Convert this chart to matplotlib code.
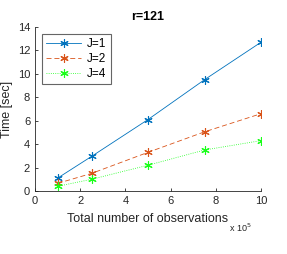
import matplotlib
matplotlib.use('Agg')
import matplotlib.pyplot as plt
import numpy as np

plt.rcParams['font.family'] = ['Liberation Sans', 'DejaVu Sans']

# data (x in units of 1e5 observations)
n_obs = [1, 2.5, 5, 7.5, 10]
t_j1 = [1.1, 2.95, 6.1, 9.5, 12.7]
t_j2 = [0.65, 1.5, 3.3, 5.05, 6.6]
t_j4 = [0.4, 1.0, 2.2, 3.5, 4.3]

fig = plt.figure(figsize=(2.87, 2.54), dpi=100)
ax = fig.add_axes([35/287, 1 - 191/254, 226/287, 164/254])

star = (6, 2, 0)
ax.plot(n_obs, t_j1, '-', color=(0, 0.447, 0.741), lw=0.6, marker=star, ms=6, mew=0.8,
        label='J=1')
ax.plot(n_obs, t_j2, '--', color=(0.85, 0.325, 0.098), lw=0.6, marker=star, ms=6, mew=0.8,
        dashes=(6, 3.5), label='J=2')
ax.plot(n_obs, t_j4, ':', color=(0.1, 1.0, 0.1), lw=0.6, marker=star, ms=6, mew=0.8,
        label='J=4')

ax.set_xlim(0, 10)
ax.set_ylim(0, 14)
ax.set_xticks([0, 2, 4, 6, 8, 10])
ax.set_yticks([0, 2, 4, 6, 8, 10, 12, 14])
ax.spines['top'].set_visible(False)
ax.spines['right'].set_visible(False)
for s in ['left', 'bottom']:
    ax.spines[s].set_linewidth(0.6)
    ax.spines[s].set_color('#262626')
ax.tick_params(labelsize=8, width=0.6, length=2, direction='in', colors='#262626', pad=3.5)

ax.set_xlabel('Total number of observations', fontsize=9, color='#262626', labelpad=5)
ax.set_ylabel('Time [sec]', fontsize=9, color='#262626', labelpad=3)
ax.set_title('r=121', fontsize=9, fontweight='bold', pad=5)
ax.text(0.86, -0.25, r'x 10$^5$', transform=ax.transAxes, fontsize=6.5, ha='left',
        va='baseline', color='#262626')

leg = ax.legend(loc='upper left', bbox_to_anchor=(0.02, 0.97), fontsize=8.5, frameon=True,
                fancybox=False, shadow=False, handlelength=3.0, borderpad=0.35,
                labelspacing=0.25, handletextpad=0.5, borderaxespad=0.2)
leg.get_frame().set_edgecolor('#404040')
leg.get_frame().set_linewidth(0.8)

fig.savefig('out.png', dpi=100)
